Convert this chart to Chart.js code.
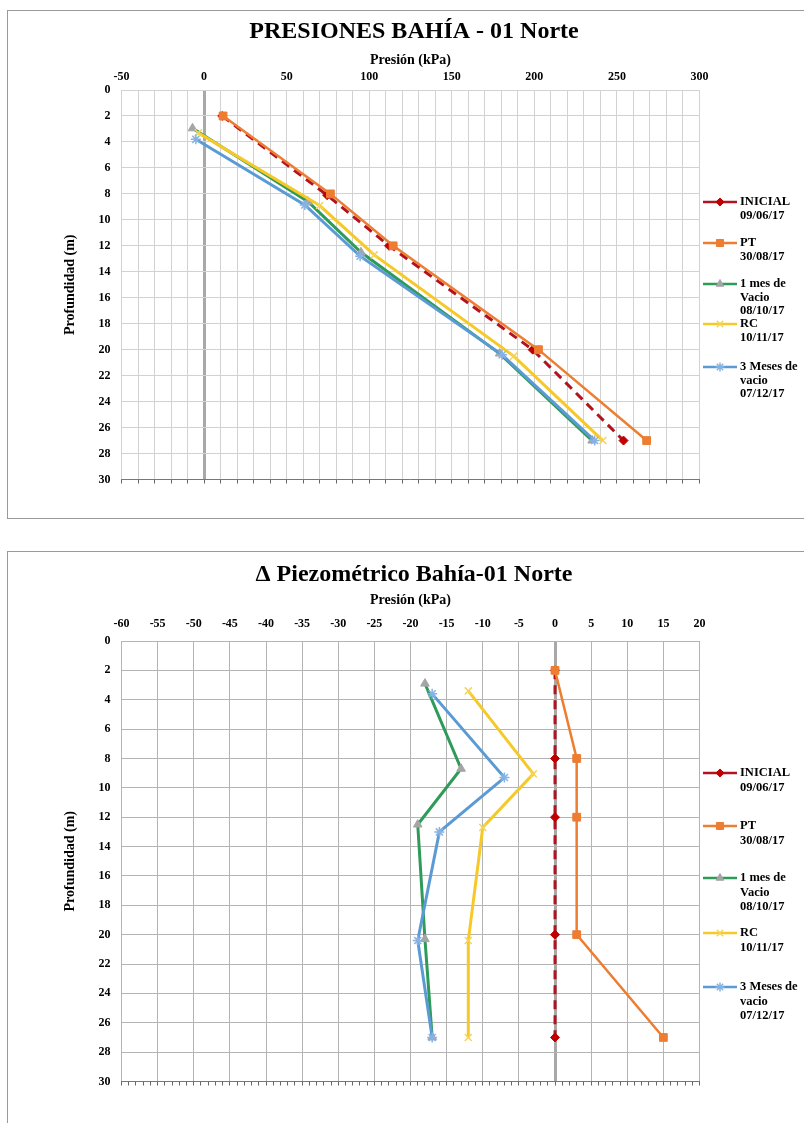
<!DOCTYPE html>
<html><head><meta charset="utf-8">
<script src="https://cdn.jsdelivr.net/npm/chart.js@4.4.1/dist/chart.umd.min.js"></script>
<style>
html,body{margin:0;padding:0;background:#fff;overflow:hidden;width:804px;height:1123px;}
.box{position:absolute;border:1px solid #9a9a9a;background:#fff;}
#b1{left:7px;top:10px;width:812px;height:507px;}
#b2{left:7px;top:551px;width:812px;height:580px;}
canvas{display:block;}
</style></head><body>
<div class="box" id="b1"><canvas id="c1" width="812" height="507" style="width:812px;height:507px"></canvas></div>
<div class="box" id="b2"><canvas id="c2" width="812" height="580" style="width:812px;height:580px"></canvas></div>
<script>
// ---------- DATA ----------
const seriesNames = ['INICIAL\n09/06/17', 'PT\n30/08/17', '1 mes de\nVacio\n08/10/17', 'RC\n10/11/17', '3 Meses de\nvacio\n07/12/17'];

// Chart 1: PRESIONES BAHÍA - 01 Norte  (Presión kPa vs Profundidad m)
const inicialDepth   = [2, 8.1, 12, 20, 27];
const inicialPresion = [11, 74.5, 112, 199, 254];
const ptDepth        = [2, 8, 12, 20, 27];
const ptPresion      = [11.5, 76.5, 114.5, 202.5, 268];
const mes1Depth      = [2.95, 8.6, 12.5, 20.3, 27];
const mes1Presion    = [-7, 63, 95, 179, 235];
const rcDepth        = [3.3, 8.9, 12.7, 20.5, 27];
const rcPresion      = [-3.5, 70, 103, 187.5, 241.5];
const mes3Depth      = [3.8, 8.85, 12.8, 20.4, 27];
const mes3Presion    = [-5, 61, 94.5, 180.5, 236.5];

// Chart 2: Δ Piezométrico Bahía-01 Norte
const dInicialDepth = [2, 8, 12, 20, 27];
const dInicial      = [0, 0, 0, 0, 0];
const dPtDepth      = [2, 8, 12, 20, 27];
const dPt           = [0, 3, 3, 3, 15];
const dMes1Depth    = [2.9, 8.7, 12.5, 20.3, 27];
const dMes1         = [-18, -13, -19, -18, -17];
const dRcDepth      = [3.4, 9.05, 12.7, 20.4, 27];
const dRc           = [-12, -3, -10, -12, -12];
const dMes3Depth    = [3.6, 9.3, 13, 20.4, 27];
const dMes3         = [-17, -7, -16, -19, -17];

// Axis ranges / tick steps
const topX = {min: -50, max: 300, grid: 10, label: 50};
const botX = {min: -60, max: 20, grid: 5, label: 5};
const depthAxis = {min: 0, max: 30, step: 2};

// ---------- STYLES ----------
const FONT = "'Liberation Serif', 'Times New Roman', serif";
const styles = [
  {borderColor:'#B3121F', borderWidth:3, borderDash:[9,6], pointStyle:'rectRot', pointRadius:4.5, pointBackgroundColor:'#C00000', pointBorderColor:'#C00000', pointBorderWidth:1, order:5},
  {borderColor:'#ED7D31', borderWidth:2.5, pointStyle:'rect', pointRadius:5.5, pointBackgroundColor:'#ED7D31', pointBorderColor:'#ED7D31', pointBorderWidth:1, order:4},
  {borderColor:'#2E9B58', borderWidth:3, pointStyle:'triangle', pointRadius:5, pointBackgroundColor:'#A5A5A5', pointBorderColor:'#A5A5A5', pointBorderWidth:1, order:3},
  {borderColor:'#F6C928', borderWidth:3, pointStyle:'crossRot', pointRadius:5, pointBackgroundColor:'#F5D45A', pointBorderColor:'#F5D45A', pointBorderWidth:1.5, order:2},
  {borderColor:'#5B9BD5', borderWidth:3, pointStyle:'star', pointRadius:5, pointBackgroundColor:'#86B3E3', pointBorderColor:'#86B3E3', pointBorderWidth:1.5, order:1}
];

function mk(i, xs, ys) {
  return Object.assign({label: seriesNames[i], data: xs.map((x, k) => ({x: x, y: ys[k]})), showLine: true, fill: false, tension: 0}, styles[i]);
}

const legendPlugin = {
  id: 'sideLegend',
  afterDraw(chart, args, opts) {
    const ctx = chart.ctx;
    ctx.save();
    chart.data.datasets.forEach((ds, i) => {
      const y0 = opts.rows[i];
      ctx.save();
      ctx.strokeStyle = ds.borderColor;
      ctx.lineWidth = 2.5;
      ctx.beginPath(); ctx.moveTo(opts.x1, y0); ctx.lineTo(opts.x2, y0); ctx.stroke();
      ctx.restore();
      ctx.save();
      ctx.fillStyle = ds.pointBackgroundColor;
      ctx.strokeStyle = ds.pointBorderColor;
      ctx.lineWidth = ds.pointBorderWidth || 1;
      if (Chart.helpers && Chart.helpers.drawPoint) {
        Chart.helpers.drawPoint(ctx, {pointStyle: ds.pointStyle, radius: ds.pointRadius * 0.9, borderWidth: ds.pointBorderWidth || 1, rotation: 0}, (opts.x1 + opts.x2) / 2, y0);
      }
      ctx.restore();
      ctx.fillStyle = '#000';
      ctx.font = 'bold 12.5px ' + FONT;
      ctx.textBaseline = 'middle';
      ctx.textAlign = 'left';
      ds.label.split('\n').forEach((t, k) => ctx.fillText(t, opts.tx, y0 + k * opts.gap));
    });
    ctx.restore();
  }
};

function makeChart(id, datasets, cfg) {
  const isZero = v => Math.abs(v) < 1e-9;
  return new Chart(document.getElementById(id), {
    type: 'scatter',
    data: {datasets: datasets},
    plugins: [legendPlugin],
    options: {
      responsive: false, animation: false, devicePixelRatio: 1,
      layout: {padding: {left: 0, right: 0, top: 0, bottom: cfg.padBottom}},
      plugins: {
        legend: {display: false}, tooltip: {enabled: false},
        title: {display: true, text: cfg.title, color: '#000', font: {family: FONT, size: 24, weight: 'bold'}, padding: {top: cfg.titlePadTop, bottom: 2}},
        sideLegend: cfg.legend
      },
      scales: {
        x: {
          type: 'linear', position: 'top', min: cfg.xr.min, max: cfg.xr.max,
          afterFit: s => { s.height = cfg.xHeight; },
          ticks: {stepSize: cfg.xr.grid, autoSkip: false, maxRotation: 0, minRotation: 0, padding: cfg.xTickPad, color: '#000',
            font: {family: FONT, size: 12, weight: 'bold'},
            callback: v => (Math.abs(v % cfg.xr.label) < 1e-9 ? String(v) : '')},
          grid: {drawTicks: false, color: c => isZero(c.tick.value) ? '#a8a8a8' : cfg.gridColor, lineWidth: c => isZero(c.tick.value) ? 3 : 1},
          border: {display: false},
          title: {display: true, text: 'Presión (kPa)', color: '#000', font: {family: FONT, size: 14, weight: 'bold'}, padding: {top: cfg.xTitlePad, bottom: 0}}
        },
        x2: {
          type: 'linear', position: 'bottom', min: cfg.xr.min, max: cfg.xr.max,
          afterFit: s => { s.height = 6; },
          ticks: {display: false, stepSize: cfg.minorStep, autoSkip: false},
          grid: {drawOnChartArea: false, drawTicks: true, tickLength: 4, color: '#666', lineWidth: 1},
          border: {display: true, color: '#777', width: 1}
        },
        y: {
          type: 'linear', position: 'left', reverse: true, min: depthAxis.min, max: depthAxis.max,
          afterFit: s => { s.width = 113.5; },
          ticks: {stepSize: depthAxis.step, padding: 11, color: '#000', font: {family: FONT, size: 12, weight: 'bold'}},
          grid: {drawTicks: false, color: cfg.gridColor, lineWidth: 1},
          border: {display: false},
          title: {display: true, text: 'Profundidad (m)', color: '#000', font: {family: FONT, size: 14, weight: 'bold'}, padding: {top: 53.6, bottom: 0}}
        },
        // empty right-side box that reserves the legend area
        yLegend: {
          type: 'linear', position: 'right', min: 0, max: 1,
          afterFit: s => { s.width = cfg.rightArea; },
          ticks: {display: false},
          grid: {drawOnChartArea: false, drawTicks: false},
          border: {display: false}
        }
      }
    }
  });
}

makeChart('c1', [
  mk(0, inicialPresion, inicialDepth),
  mk(1, ptPresion, ptDepth),
  mk(2, mes1Presion, mes1Depth),
  mk(3, rcPresion, rcDepth),
  mk(4, mes3Presion, mes3Depth)
], {
  title: 'PRESIONES BAHÍA - 01 Norte', xr: topX, minorStep: 10,
  rightArea: 120.5, padBottom: 32.5, titlePadTop: 6.8, xHeight: 41.4, xTickPad: 6, xTitlePad: 3,
  gridColor: '#d2d2d2',
  legend: {x1: 695, x2: 729, tx: 732, gap: 13.5, rows: [191, 232, 273, 313, 356]}
});

makeChart('c2', [
  mk(0, dInicial, dInicialDepth),
  mk(1, dPt, dPtDepth),
  mk(2, dMes1, dMes1Depth),
  mk(3, dRc, dRcDepth),
  mk(4, dMes3, dMes3Depth)
], {
  title: '\u0394 Piezométrico Bahía-01 Norte', xr: botX, minorStep: 1,
  rightArea: 120.5, padBottom: 44.5, titlePadTop: 8.6, xHeight: 49.6, xTickPad: 9.8, xTitlePad: 0.2,
  gridColor: '#b4b4b4',
  legend: {x1: 695, x2: 729, tx: 732, gap: 14.5, rows: [221, 274, 326, 381, 435]}
});
</script>
</body></html>
